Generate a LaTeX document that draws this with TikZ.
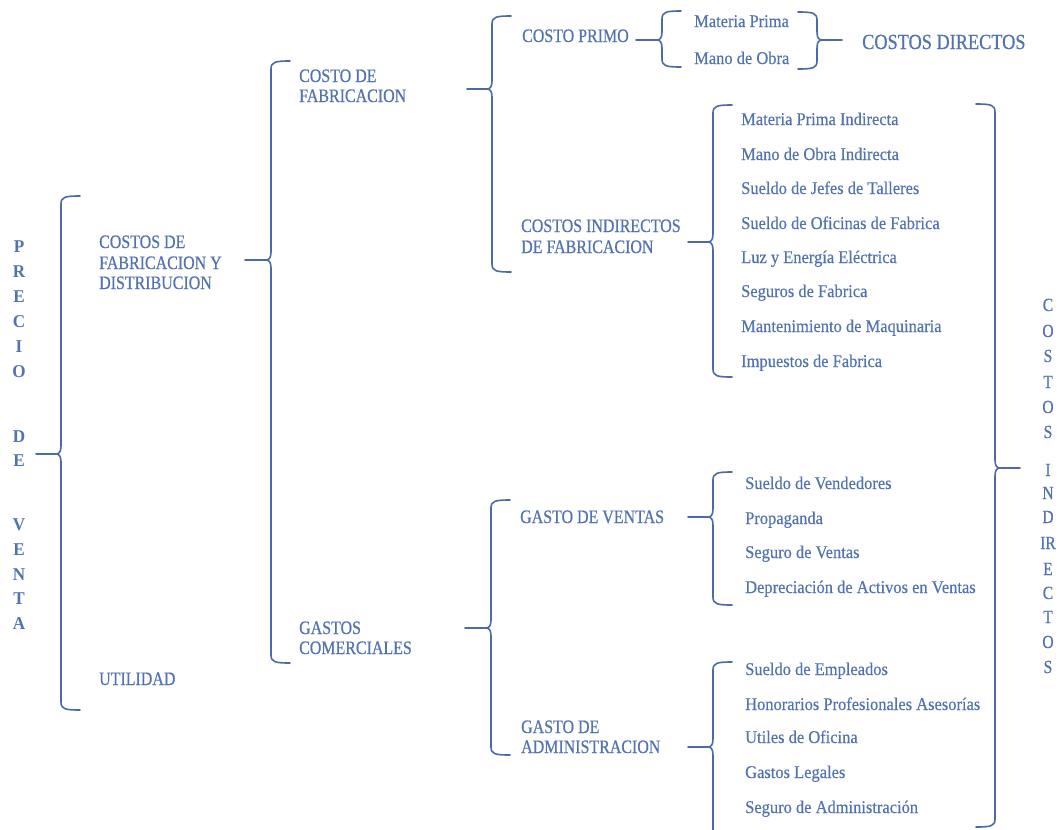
\documentclass[tikz,border=0pt]{standalone}
\usepackage{fontspec}
\setmainfont{Liberation Serif}
\newfontfamily\headfont[FakeStretch=0.84, FakeBold=0.5]{Liberation Serif}
\newfontfamily\bigfont[FakeStretch=0.85, FakeBold=0.6]{Liberation Serif}
\newfontfamily\itemfont[FakeStretch=0.92, FakeBold=0.4]{Liberation Serif}
\newfontfamily\letterfont[FakeStretch=0.95]{Liberation Serif Bold}
\definecolor{txtblue}{RGB}{82,114,178}
\definecolor{lnblue}{RGB}{78,106,166}

% left-opening curly brace: x of the stem, top y, tip y, bottom y, stub end x
\newcommand\openbrace[5]{%
  \draw[brc] ({#1+19},#2) .. controls ({#1+4},#2) and (#1,{#2+1}) .. (#1,{#2+8})
    -- (#1,{#3-8}) .. controls (#1,{#3-2}) and ({#1-2},#3) .. ({#1-5},#3) -- (#5,#3)
    ({#1-5},#3) .. controls ({#1-2},#3) and (#1,{#3+2}) .. (#1,{#3+8})
    -- (#1,{#4-8}) .. controls (#1,{#4-1}) and ({#1+4},#4) .. ({#1+19},#4);}
% right-closing curly brace: x of the stem, top y, tip y, bottom y, stub end x
\newcommand\closebrace[5]{%
  \draw[brc] ({#1-19},#2) .. controls ({#1-4},#2) and (#1,{#2+1}) .. (#1,{#2+8})
    -- (#1,{#3-8}) .. controls (#1,{#3-2}) and ({#1+2},#3) .. ({#1+5},#3) -- (#5,#3)
    ({#1+5},#3) .. controls ({#1+2},#3) and (#1,{#3+2}) .. (#1,{#3+8})
    -- (#1,{#4-8}) .. controls (#1,{#4-1}) and ({#1-4},#4) .. ({#1-19},#4);}

\tikzset{
  brc/.style={draw=lnblue, line width=1.6pt, line cap=round, line join=round},
  head/.style={anchor=base west, inner sep=0pt, text=txtblue, font=\headfont\fontsize{19}{20}\selectfont},
  big/.style={anchor=base west, inner sep=0pt, text=txtblue, font=\bigfont\fontsize{21.5}{24}\selectfont},
  itm/.style={anchor=base west, inner sep=0pt, text=txtblue, font=\itemfont\fontsize{17.9}{20}\selectfont},
  vlet/.style={anchor=base, inner sep=0pt, text=txtblue, font=\letterfont\fontsize{18}{20}\selectfont},
  vlets/.style={anchor=base, inner sep=0pt, text=txtblue, font=\headfont\fontsize{18.5}{20}\selectfont},
}

\begin{document}
\begin{tikzpicture}[x=1pt, y=-1pt]
  \fill[white] (0,0) rectangle (1061,830);
  \useasboundingbox (0,0) rectangle (1061,830);
  \clip (0,0) rectangle (1061,830);

  % vertical title on the left
  \foreach \l/\yy [count=\i] in {P/252,R/277,E/302,C/327,I/352,O/377,D/442,E/466,V/530,E/555,N/580,T/604,A/629}
    \node[vlet] (pv\i) at (19,\yy) {\l};

  % first level
  \node[head] (cfd1) at (99,248) {COSTOS DE};
  \node[head] (cfd2) at (99,269) {FABRICACION Y};
  \node[head] (cfd3) at (99,289) {DISTRIBUCION};
  \node[head] (util) at (99,685) {UTILIDAD};
  \openbrace{61}{196}{454}{710}{36}

  % second level
  \node[head] (cf1) at (299,82) {COSTO DE};
  \node[head] (cf2) at (299,102) {FABRICACION};
  \node[head] (gc1) at (299,634) {GASTOS};
  \node[head] (gc2) at (299,654) {COMERCIALES};
  \openbrace{271}{61}{260}{663}{245}

  % manufacturing cost
  \node[head] (cp) at (522,42) {COSTO PRIMO};
  \node[head] (cif1) at (521,232) {COSTOS INDIRECTOS};
  \node[head] (cif2) at (521,253) {DE FABRICACION};
  \openbrace{492}{16}{89}{272}{467}

  % commercial expenses
  \node[head] (gv) at (520,523) {GASTO DE VENTAS};
  \node[head] (ga1) at (521,733) {GASTO DE};
  \node[head] (ga2) at (521,753) {ADMINISTRACION};
  \openbrace{491}{500}{628}{755}{465}

  % prime cost
  \node[itm] (mp) at (694,27) {Materia Prima};
  \node[itm] (mo) at (694,64) {Mano de Obra};
  \openbrace{662}{11}{40}{67}{636}
  \closebrace{817}{12}{40}{69}{842}
  \node[big] (cd) at (862,49) {COSTOS DIRECTOS};

  % indirect manufacturing costs
  \foreach \t/\yy [count=\i] in {Materia Prima Indirecta/125, Mano de Obra Indirecta/160,
      Sueldo de Jefes de Talleres/194, Sueldo de Oficinas de Fabrica/229,
      Luz y Energía Eléctrica/263, Seguros de Fabrica/297,
      Mantenimiento de Maquinaria/332, Impuestos de Fabrica/367}
    \node[itm] (ci\i) at (741,\yy) {\t};
  \openbrace{713}{105}{242}{377}{688}

  % sales expenses
  \foreach \t/\yy [count=\i] in {Sueldo de Vendedores/489, Propaganda/524,
      Seguro de Ventas/558, Depreciación de Activos en Ventas/593}
    \node[itm] (sv\i) at (745,\yy) {\t};
  \openbrace{713}{472}{517}{605}{688}

  % administration expenses
  \foreach \t/\yy [count=\i] in {Sueldo de Empleados/675, Honorarios Profesionales Asesorías/710,
      Utiles de Oficina/743, Gastos Legales/778, Seguro de Administración/813}
    \node[itm] (ad\i) at (745,\yy) {\t};
  \openbrace{713}{662}{747}{850}{688}

  % indirect costs, gathered on the right
  \closebrace{995}{104}{468}{827}{1020}
  \foreach \l/\yy [count=\i] in {C/311,O/337,S/362,T/388,O/413,S/438,I/476,N/499,D/523,IR/549,E/575,C/599,T/623,O/648,S/673}
    \node[vlets] (iv\i) at (1048,\yy) {\l};
\end{tikzpicture}
\end{document}
